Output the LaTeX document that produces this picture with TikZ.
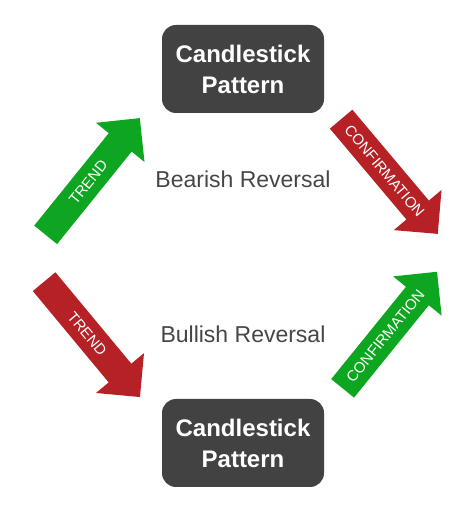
\documentclass[tikz,border=0pt]{standalone}
\usepackage{fontspec}
\setmainfont{Liberation Sans}
\usetikzlibrary{shapes.arrows}
\definecolor{upgreen}{RGB}{14,166,32}
\definecolor{downred}{RGB}{182,33,38}
\definecolor{boxgray}{RGB}{66,66,66}
\definecolor{textgray}{RGB}{70,70,70}

\tikzset{
  candlebox/.style={fill=boxgray, text=white, rounded corners=14pt, minimum width=162pt, minimum height=88pt, align=center, font=\bfseries\fontsize{24}{31}\selectfont},
  revtext/.style={text=textgray, anchor=base, font=\fontsize{23}{27}\selectfont},
  bigarrow/.style={single arrow, anchor=tail, text=white, minimum height=150pt, single arrow head extend=16.5pt, inner ysep=0pt, text height=19.9pt, text depth=9.1pt, font=\fontsize{15}{17}\selectfont}
}

\begin{document}
\begin{tikzpicture}[x=1pt, y=1pt]
    \useasboundingbox (0,0) rectangle (474,512);

    % the two pattern boxes
    \node[candlebox] (toppat) at (243,443) {Candlestick\\Pattern};
    \node[candlebox] (botpat) at (243,69) {Candlestick\\Pattern};

    % the reversal labels
    \node[revtext] (bear) at (243,324) {Bearish Reversal};
    \node[revtext] (bull) at (243,169) {Bullish Reversal};

    % the four arrows, placed at their tails
    \foreach \x/\y/\a/\col/\name/\id in {{45.5/277/51.1/upgreen/TREND/trendup}, {341/393/-49.9/downred/CONFIRMATION/confdown}, {44/230.5/-50.3/downred/TREND/trenddown}, {342.5/123.5/51/upgreen/CONFIRMATION/confup}}
        \node[bigarrow, fill=\col, rotate=\a] (\id) at (\x,\y) {\name};

\end{tikzpicture}
\end{document}
